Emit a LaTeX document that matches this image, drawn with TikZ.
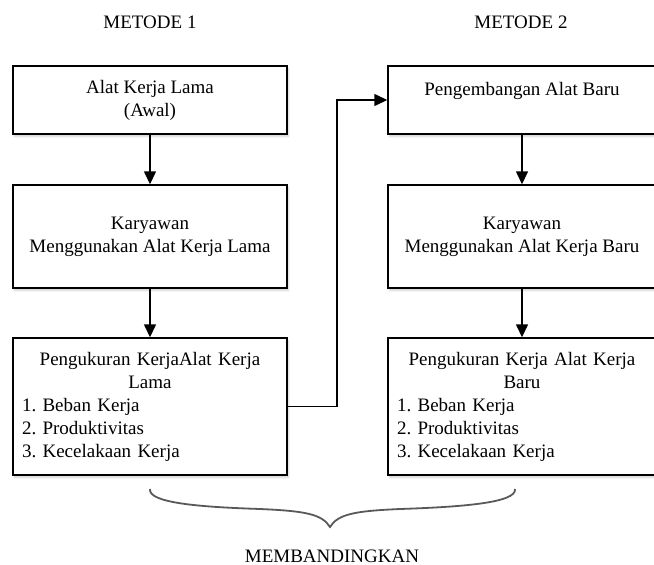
\documentclass[tikz,border=0pt]{standalone}
\usepackage{fontspec}
\setmainfont{Liberation Serif}
\usetikzlibrary{arrows.meta,shadows.blur}
\begin{document}
\frenchspacing
\begin{tikzpicture}[x=1pt,y=-1pt,
  box/.style={draw=black, line width=1.4pt, fill=white, inner sep=0pt,
    font=\fontsize{19}{23}\selectfont, align=center,
    blur shadow={shadow xshift=1.5pt, shadow yshift=-2.5pt, shadow blur steps=6, shadow opacity=18}},
  listbox/.style={box, align=left, inner xsep=9pt},
  txt/.style={font=\fontsize{19}{23}\selectfont, align=center, inner sep=0pt},
  conn/.style={line width=1.4pt, -{Triangle[length=13pt,width=12pt]}},
  bracestyle/.style={draw=black!65, line width=1.8pt}]
\useasboundingbox (0,0) rectangle (654,565);
\clip (0,0) rectangle (654,565);

\node[txt] (m1) at (150,22) {METODE 1};
\node[txt] (m2) at (521,22) {METODE 2};

\node[box, minimum width=274pt, minimum height=68pt] (l1) at (150,100) {Alat Kerja Lama\\(Awal)};
\node[box, minimum width=274pt, minimum height=103pt] (l2) at (150,236.5) {Karyawan\\Menggunakan Alat Kerja Lama};
\node[listbox, minimum width=274pt, minimum height=137pt, text width=256pt] (l3) at (150,406.5)
  {\centering Pengukuran KerjaAlat Kerja\\Lama\par\raggedright 1. Beban Kerja\\2. Produktivitas\\3. Kecelakaan Kerja\par};

\node[box, minimum width=268pt, minimum height=68pt] (r1) at (522,100) {};
\node[txt, anchor=base] (r1t) at (522,95) {Pengembangan Alat Baru};
\node[box, minimum width=268pt, minimum height=103pt] (r2) at (522,236.5) {Karyawan\\Menggunakan Alat Kerja Baru};
\node[listbox, minimum width=268pt, minimum height=137pt, text width=250pt] (r3) at (522,406.5)
  {\centering Pengukuran Kerja Alat Kerja\\Baru\par\raggedright 1. Beban Kerja\\2. Produktivitas\\3. Kecelakaan Kerja\par};

\draw[conn] (l1) -- (l2);
\draw[conn] (l2) -- (l3);
\draw[conn] (r1) -- (r2);
\draw[conn] (r2) -- (r3);

\coordinate (bend) at (337,0);
\draw[conn] (l3.east) -| (bend |- r1.west) -- (r1.west);

\coordinate (bl) at (150,489);
\coordinate (bt) at (330,527);
\coordinate (br) at (515,489);
\draw[bracestyle] (bl) .. controls (148,503) and (200,507) .. (260,509)
  .. controls (305,511) and (322,514) .. (bt)
  .. controls (338,514) and (355,511) .. (400,509)
  .. controls (460,507) and (517,503) .. (br);

\node[txt] (mb) at (332,556) {MEMBANDINGKAN};
\end{tikzpicture}
\end{document}
